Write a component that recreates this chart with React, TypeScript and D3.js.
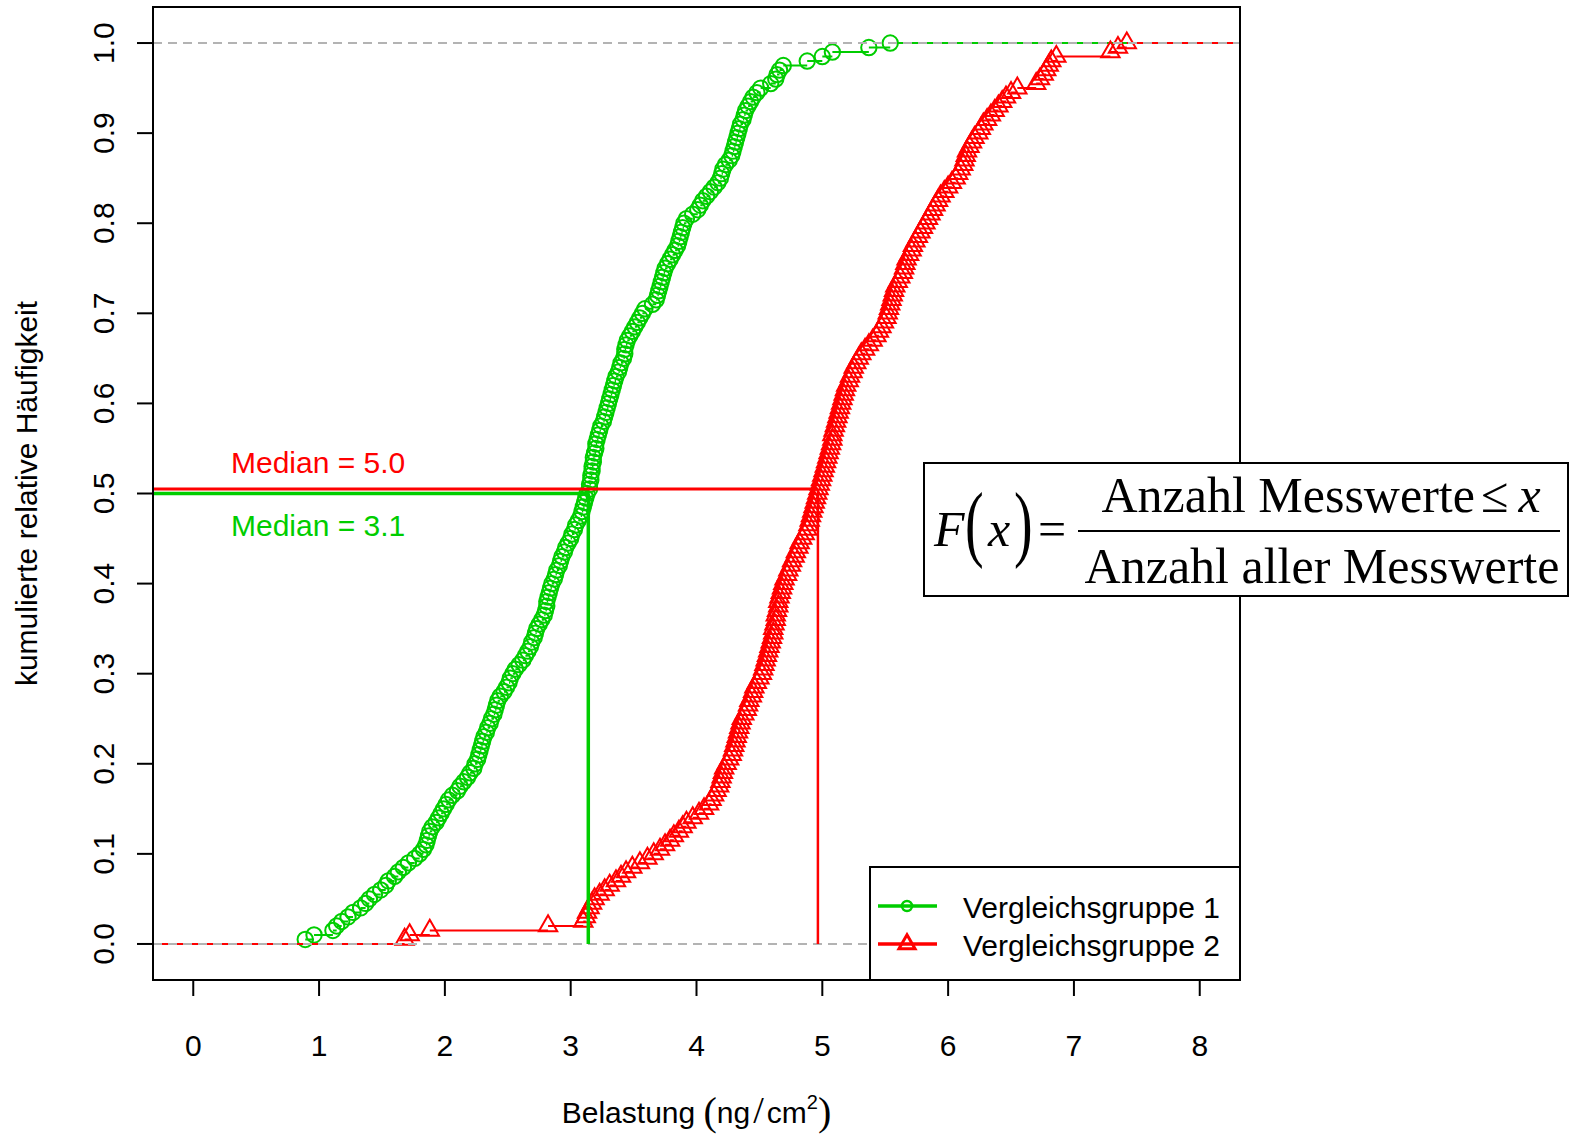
import React from 'react';
import * as d3 from 'd3';

const GROUP1_VALUES = [
  0.89, 0.96, 1.11, 1.14, 1.18, 1.23, 1.27, 1.33, 1.37, 1.40,
  1.44, 1.49, 1.53, 1.55, 1.60, 1.63, 1.67, 1.71, 1.76, 1.80,
  1.83, 1.85, 1.86, 1.87, 1.88, 1.90, 1.93, 1.95, 1.97, 1.99,
  2.01, 2.03, 2.06, 2.10, 2.12, 2.15, 2.18, 2.20, 2.23, 2.24,
  2.26, 2.27, 2.28, 2.29, 2.30, 2.31, 2.33, 2.34, 2.36, 2.37,
  2.39, 2.40, 2.41, 2.42, 2.44, 2.47, 2.49, 2.51, 2.52, 2.54,
  2.56, 2.59, 2.62, 2.64, 2.66, 2.68, 2.69, 2.71, 2.72, 2.73,
  2.75, 2.77, 2.79, 2.80, 2.81, 2.81, 2.82, 2.83, 2.84, 2.85,
  2.87, 2.88, 2.89, 2.91, 2.92, 2.93, 2.95, 2.96, 2.98, 3.00,
  3.01, 3.03, 3.04, 3.06, 3.08, 3.09, 3.10, 3.11, 3.12, 3.13,
  3.15, 3.15, 3.16, 3.16, 3.17, 3.17, 3.18, 3.18, 3.19, 3.20,
  3.20, 3.21, 3.22, 3.23, 3.24, 3.26, 3.27, 3.28, 3.29, 3.30,
  3.31, 3.32, 3.33, 3.34, 3.35, 3.36, 3.38, 3.39, 3.40, 3.42,
  3.43, 3.43, 3.44, 3.45, 3.47, 3.49, 3.51, 3.53, 3.55, 3.57,
  3.59, 3.65, 3.68, 3.69, 3.70, 3.71, 3.72, 3.73, 3.74, 3.75,
  3.77, 3.79, 3.81, 3.83, 3.85, 3.86, 3.87, 3.88, 3.89, 3.90,
  3.92, 3.97, 4.01, 4.03, 4.05, 4.08, 4.11, 4.14, 4.17, 4.19,
  4.20, 4.21, 4.23, 4.26, 4.28, 4.29, 4.30, 4.31, 4.32, 4.33,
  4.34, 4.35, 4.37, 4.38, 4.39, 4.41, 4.43, 4.45, 4.48, 4.51,
  4.59, 4.63, 4.64, 4.66, 4.69, 4.88, 5.00, 5.08, 5.37, 5.54,
];

const GROUP2_VALUES = [
  1.68, 1.72, 1.88, 2.82, 3.10, 3.12, 3.13, 3.15, 3.17, 3.19,
  3.23, 3.27, 3.31, 3.36, 3.40, 3.44, 3.49, 3.55, 3.61, 3.66,
  3.71, 3.75, 3.79, 3.82, 3.86, 3.89, 3.92, 3.97, 4.02, 4.06,
  4.10, 4.12, 4.14, 4.16, 4.18, 4.19, 4.20, 4.21, 4.22, 4.24,
  4.26, 4.28, 4.29, 4.30, 4.31, 4.32, 4.33, 4.34, 4.35, 4.36,
  4.38, 4.40, 4.41, 4.42, 4.44, 4.45, 4.46, 4.48, 4.50, 4.52,
  4.53, 4.54, 4.55, 4.56, 4.57, 4.58, 4.59, 4.60, 4.61, 4.61,
  4.62, 4.63, 4.63, 4.64, 4.65, 4.65, 4.66, 4.67, 4.68, 4.69,
  4.70, 4.72, 4.73, 4.75, 4.76, 4.78, 4.79, 4.81, 4.82, 4.84,
  4.86, 4.88, 4.89, 4.90, 4.91, 4.92, 4.93, 4.94, 4.95, 4.96,
  4.97, 4.98, 4.99, 5.00, 5.01, 5.02, 5.03, 5.04, 5.05, 5.06,
  5.07, 5.08, 5.08, 5.09, 5.10, 5.11, 5.12, 5.13, 5.14, 5.15,
  5.16, 5.17, 5.18, 5.19, 5.21, 5.22, 5.24, 5.25, 5.27, 5.29,
  5.31, 5.34, 5.37, 5.40, 5.43, 5.45, 5.47, 5.49, 5.51, 5.52,
  5.53, 5.54, 5.55, 5.56, 5.57, 5.58, 5.60, 5.62, 5.64, 5.65,
  5.66, 5.67, 5.69, 5.71, 5.72, 5.74, 5.76, 5.78, 5.80, 5.82,
  5.84, 5.86, 5.88, 5.90, 5.92, 5.94, 5.97, 6.00, 6.03, 6.06,
  6.08, 6.10, 6.12, 6.13, 6.14, 6.15, 6.17, 6.19, 6.21, 6.24,
  6.26, 6.28, 6.31, 6.34, 6.37, 6.40, 6.43, 6.46, 6.50, 6.55,
  6.70, 6.73, 6.76, 6.78, 6.80, 6.82, 6.86, 7.29, 7.35, 7.42,
];

const SERIES_NAMES = ['Vergleichsgruppe 1', 'Vergleichsgruppe 2'];
const SERIES_COLORS = ['#00CD00', '#FF0000'];
const X_TICKS = [0, 1, 2, 3, 4, 5, 6, 7, 8];
const Y_TICKS = [0, 0.1, 0.2, 0.3, 0.4, 0.5, 0.6, 0.7, 0.8, 0.9, 1.0];
const MEDIAN_LABELS = ['Median = 3.1', 'Median = 5.0'];
const MEDIAN_LEVELS = [0.5, 0.505];
const X_DOMAIN = [-0.32, 8.32];
const Y_DOMAIN = [-0.04, 1.04];

const SANS = 'Liberation Sans, Arial, Helvetica, sans-serif';
const SERIF = 'Liberation Serif, Times New Roman, serif';

export default function App() {
  const W = 1575, H = 1139;
  const L = 153, R = 1240, T = 7, B = 980;
  const x = d3.scaleLinear().domain(X_DOMAIN).range([L, R]);
  const y = d3.scaleLinear().domain(Y_DOMAIN).range([B, T]);

  const series = [GROUP1_VALUES, GROUP2_VALUES].map((vals) => d3.sort(vals));

  const segPath = (vals: number[]) => {
    const n = vals.length;
    let d = `M${L - 50},${y(0)}H${x(vals[0])}`;
    for (let i = 0; i < n; i++) {
      const x1 = i < n - 1 ? x(vals[i + 1]) : R + 50;
      d += `M${x(vals[i])},${y((i + 1) / n)}H${x1}`;
    }
    return d;
  };

  const s = 20.5;
  const circR = 0.375 * s;
  const triPath = (cx: number, cy: number, size: number) => {
    const xc = 0.375 * 0.886227 * size;
    const r = 1.5551 * xc, yc = 0.7776 * xc, hw = 1.3468 * xc;
    return `M${cx},${cy - r}L${cx + hw},${cy + yc}L${cx - hw},${cy + yc}Z`;
  };

  const grayLines = (key: string) => (
    <g key={key}>
      {[0, 1].map((v) => (
        <line key={v} x1={L} x2={R} y1={y(v)} y2={y(v)} stroke="#b3b3b3" strokeWidth={2} strokeDasharray="9,6" />
      ))}
    </g>
  );

  const medians = series.map((vals) => d3.median(vals) as number);

  return (
    <svg width={W} height={H} style={{ position: 'absolute', left: 0, top: 0, background: '#fff' }}>
      <defs>
        <clipPath id="plotclip">
          <rect x={L} y={T} width={R - L} height={B - T} />
        </clipPath>
      </defs>
      <rect x={0} y={0} width={W} height={H} fill="#fff" />
      <g clipPath="url(#plotclip)">
        {series.map((vals, si) => (
          <g key={si}>
            <path d={segPath(vals)} stroke={SERIES_COLORS[si]} strokeWidth={2} fill="none" />
            {vals.map((v, i) =>
              si === 0 ? (
                <circle key={i} cx={x(v)} cy={y((i + 1) / vals.length)} r={circR} fill="none" stroke={SERIES_COLORS[si]} strokeWidth={2} />
              ) : (
                <path key={i} d={triPath(x(v), y((i + 1) / vals.length), s)} fill="none" stroke={SERIES_COLORS[si]} strokeWidth={2} />
              )
            )}
            {grayLines('g' + si)}
          </g>
        ))}
        {/* median guides */}
        {medians.map((m, si) => (
          <g key={'m' + si}>
            <line x1={L} x2={x(m)} y1={y(MEDIAN_LEVELS[si])} y2={y(MEDIAN_LEVELS[si])} stroke={SERIES_COLORS[si]} strokeWidth={si === 0 ? 3.5 : 3} />
            <line x1={x(m)} x2={x(m)} y1={y(MEDIAN_LEVELS[si])} y2={y(0)} stroke={SERIES_COLORS[si]} strokeWidth={si === 0 ? 3.5 : 2.5} />
          </g>
        ))}
      </g>
      {/* median labels */}
      <text x={x(0.3)} y={y(0.535)} dy="0.36em" fontFamily={SANS} fontSize={30} fill={SERIES_COLORS[1]}>{MEDIAN_LABELS[1]}</text>
      <text x={x(0.3)} y={y(0.465)} dy="0.36em" fontFamily={SANS} fontSize={30} fill={SERIES_COLORS[0]}>{MEDIAN_LABELS[0]}</text>

      {/* frame */}
      <rect x={L} y={T} width={R - L} height={B - T} fill="none" stroke="#000" strokeWidth={2} />

      {/* x axis */}
      {X_TICKS.map((t) => (
        <g key={'x' + t}>
          <line x1={x(t)} x2={x(t)} y1={B} y2={B + 16} stroke="#000" strokeWidth={2} />
          <text x={x(t)} y={1056} textAnchor="middle" fontFamily={SANS} fontSize={30}>{t}</text>
        </g>
      ))}
      {/* y axis */}
      {Y_TICKS.map((t) => (
        <g key={'y' + t}>
          <line x1={L} x2={L - 16} y1={y(t)} y2={y(t)} stroke="#000" strokeWidth={2} />
          <text transform={`translate(114,${y(t)}) rotate(-90)`} textAnchor="middle" fontFamily={SANS} fontSize={30}>{t.toFixed(1)}</text>
        </g>
      ))}
      <text transform={`translate(37,${(T + B) / 2}) rotate(-90)`} textAnchor="middle" fontFamily={SANS} fontSize={30}>kumulierte relative Häufigkeit</text>
      <text x={(L + R) / 2} y={1123} textAnchor="middle" fontFamily={SANS} fontSize={30}>
        Belastung <tspan fontFamily={SERIF} fontSize={40} dy={2}>(</tspan><tspan dy={-2}>ng</tspan><tspan fontFamily={SERIF} fontSize={38} dx={3}>/</tspan><tspan dx={3}>cm</tspan><tspan fontSize={20} dy={-14}>2</tspan><tspan fontFamily={SERIF} fontSize={40} dy={16}>)</tspan>
      </text>

      {/* legend */}
      <rect x={870} y={867} width={R - 870} height={B - 867} fill="#fff" stroke="#000" strokeWidth={2} />
      {SERIES_NAMES.map((name, i) => {
        const ly = 906 + i * 38;
        return (
          <g key={name}>
            <line x1={878} x2={937} y1={ly} y2={ly} stroke={SERIES_COLORS[i]} strokeWidth={3.5} />
            {i === 0 ? (
              <circle cx={907} cy={ly} r={5} fill="none" stroke={SERIES_COLORS[i]} strokeWidth={2.5} />
            ) : (
              <path d={triPath(907, ly, 18)} fill="none" stroke={SERIES_COLORS[i]} strokeWidth={3} />
            )}
            <text x={963} y={ly + 12} fontFamily={SANS} fontSize={30}>{name}</text>
          </g>
        );
      })}

      {/* formula box */}
      <rect x={924} y={463} width={644} height={133} fill="#fff" stroke="#000" strokeWidth={2} />
      <g fontFamily={SERIF} fill="#000">
        <text x={934} y={546} fontSize={50} fontStyle="italic">F</text>
        <text transform="translate(965,551) scale(1,1.5)" fontSize={56}>(</text>
        <text x={988} y={546} fontSize={50} fontStyle="italic">x</text>
        <text transform="translate(1014,551) scale(1,1.5)" fontSize={56}>)</text>
        <text x={1038} y={546} fontSize={50}>=</text>
        <line x1={1078} x2={1560} y1={531} y2={531} stroke="#000" strokeWidth={2} />
        <text x={1321} y={512} fontSize={50} textAnchor="middle">
          Anzahl Messwerte<tspan dx={6}>≤</tspan><tspan dx={10} fontStyle="italic">x</tspan>
        </text>
        <text x={1322} y={583} fontSize={50} textAnchor="middle">Anzahl aller Messwerte</text>
      </g>
    </svg>
  );
}
